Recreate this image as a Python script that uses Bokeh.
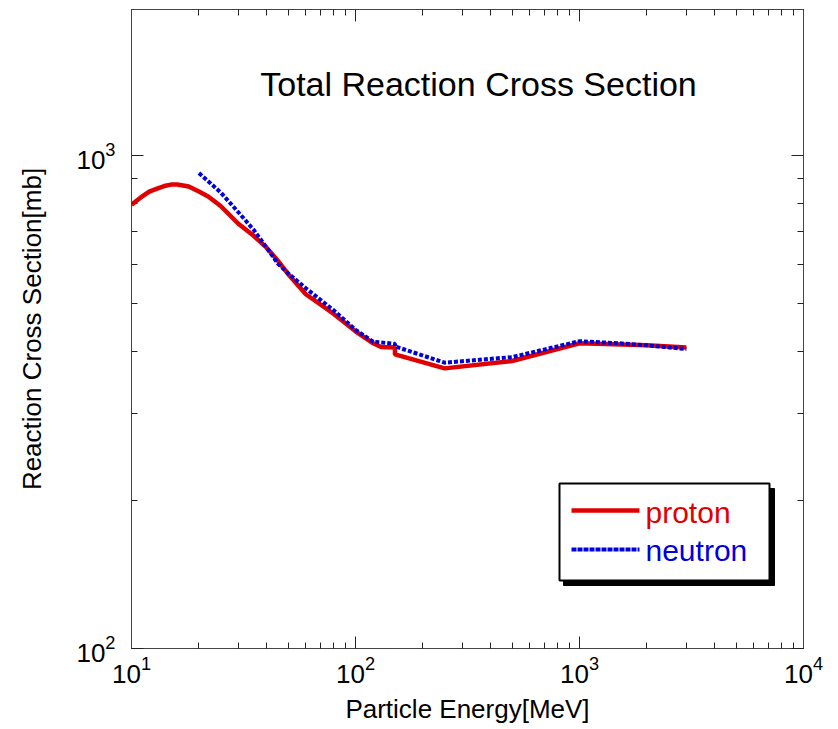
import math
from bokeh.plotting import figure
from bokeh.models import LogAxis, FixedTicker, LogTickFormatter, Label, Range1d, CustomJSTickFormatter
from bokeh.embed import file_html
from bokeh.resources import INLINE

# ---------------- data ----------------
proton_e = [10, 11, 12, 13, 14, 15, 16, 17, 18, 20, 22, 25, 30, 35, 40, 45, 50, 60, 70, 80, 100, 120, 130, 150, 150, 250, 500, 1000, 2000, 3000]
proton_xs = [795, 822, 845, 857, 867, 873, 873, 869, 865, 845, 826, 790, 727, 688, 651, 612, 575, 523, 498, 477, 440, 416, 409, 408, 395, 370, 383, 416, 412, 408]

neutron_e = [20, 25, 30, 35, 40, 45, 50, 60, 70, 80, 100, 120, 150, 150, 250, 500, 1000, 1500, 2000, 3000]
neutron_xs = [921, 842, 767, 708, 651, 604, 577, 538, 509, 485, 443, 419, 415, 410, 380, 390, 420, 416, 412, 405]

x_major = [10, 100, 1000, 10000]
y_major = [100, 1000]
x_minor = [m * d for d in (10, 100, 1000) for m in range(2, 10)]
y_minor = [m * d for d in (100, 1000) for m in range(2, 10) if m * d < 2000]

title_text = "Total Reaction Cross Section"
x_label = "Particle Energy[MeV]"
y_label = "Reaction Cross Section[mb]"
series_names = ["proton", "neutron"]

RED = "#e00000"
BLUE = "#0000dd"
FONT = "Liberation Sans"

# ---------------- layout helpers (pixel -> data) ----------------
FL, FR, FT, FB = 131, 803, 9, 648
XMIN, XMAX = 10, 10000
YMIN = 100
YMAX = 10 ** (2 + (FB - FT) / 493.0)


def xd(px):
    return 10 ** (math.log10(XMIN) + (px - FL) / (FR - FL) * (math.log10(XMAX) - math.log10(XMIN)))


def yd(py):
    return 10 ** (math.log10(YMIN) + (FB - py) / (FB - FT) * (math.log10(YMAX) - math.log10(YMIN)))


p = figure(width=838, height=729, x_axis_type="log", y_axis_type="log",
           x_range=Range1d(XMIN, XMAX), y_range=Range1d(YMIN, YMAX),
           output_backend="svg", toolbar_location=None,
           min_border_left=FL, min_border_right=838 - FR,
           min_border_top=FT, min_border_bottom=729 - FB)
p.xgrid.visible = False
p.ygrid.visible = False
p.outline_line_color = "black"
p.outline_line_width = 1
p.background_fill_color = "white"
p.border_fill_color = "white"

xt = FixedTicker(ticks=x_major, minor_ticks=x_minor)
yt = FixedTicker(ticks=y_major, minor_ticks=y_minor)


def style(ax, ticker, show_labels):
    ax.ticker = ticker
    ax.axis_line_color = "#444444"
    ax.major_tick_line_color = "#222222"
    ax.minor_tick_line_color = "#222222"
    ax.major_tick_in = 12
    ax.major_tick_out = 0
    ax.minor_tick_in = 6
    ax.minor_tick_out = 0
    ax.major_label_text_font = FONT
    ax.major_label_text_color = "black"
    if show_labels:
        ax.formatter = LogTickFormatter()
        ax.major_label_text_font_size = "26px"
    else:
        ax.formatter = CustomJSTickFormatter(code="return '';")
        ax.major_label_text_font_size = "1px"
        ax.major_label_standoff = 0


style(p.xaxis[0], xt, True)
style(p.yaxis[0], yt, True)
p.xaxis[0].major_label_standoff = 7
p.yaxis[0].major_label_standoff = 16
for ax, lab in ((p.xaxis[0], x_label), (p.yaxis[0], y_label)):
    ax.axis_label = lab
    ax.axis_label_text_font = FONT
    ax.axis_label_text_font_size = "26px"
    ax.axis_label_text_font_style = "normal"
    ax.axis_label_text_color = "black"
p.xaxis[0].axis_label_standoff = 8
p.yaxis[0].axis_label_standoff = 26

top_ax = LogAxis()
style(top_ax, xt, False)
p.add_layout(top_ax, "above")
right_ax = LogAxis()
style(right_ax, yt, False)
p.add_layout(right_ax, "right")

# curves
p.line(proton_e, proton_xs, line_color=RED, line_width=4.5)
p.line(neutron_e, neutron_xs, line_color=BLUE, line_width=4, line_dash="4 2")

# title inside plot
p.add_layout(Label(x=xd(478), y=yd(83), text=title_text, text_font=FONT,
                   text_font_size="34px", text_align="center", text_baseline="middle",
                   text_color="black"))

# custom legend with drop shadow
p.quad(left=[xd(563)], right=[xd(774)], top=[yd(488)], bottom=[yd(585)],
       fill_color="black", line_color="black")
p.quad(left=[xd(559)], right=[xd(769)], top=[yd(483)], bottom=[yd(580)],
       fill_color="white", line_color="black", line_width=2)
p.line([xd(571), xd(639)], [yd(510), yd(510)], line_color=RED, line_width=4.5)
p.line([xd(571), xd(639)], [yd(549), yd(549)], line_color=BLUE, line_width=4, line_dash="5 1")
p.add_layout(Label(x=xd(645), y=yd(512), text=series_names[0], text_font=FONT,
                   text_font_size="30px", text_align="left", text_baseline="middle",
                   text_color=RED))
p.add_layout(Label(x=xd(645), y=yd(550), text=series_names[1], text_font=FONT,
                   text_font_size="30px", text_align="left", text_baseline="middle",
                   text_color=BLUE))

open("out.html", "w").write(file_html(p, INLINE))
